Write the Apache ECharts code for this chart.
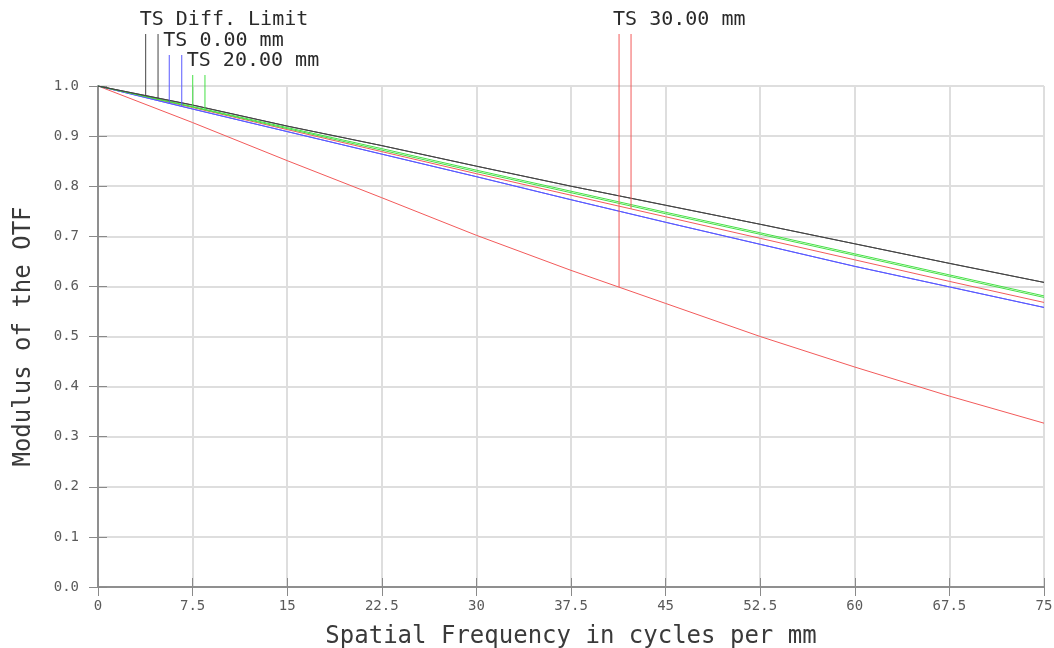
<!DOCTYPE html>
<html>
<head>
<meta charset="utf-8">
<script src="https://cdn.jsdelivr.net/npm/echarts@6/dist/echarts.min.js"></script>
<style>
html,body{margin:0;padding:0;background:#fff;}
#c{width:1054px;height:648px;}
</style>
</head>
<body>
<div id="c"></div>
<script>
// ---- data ----
const freq   = [0, 7.5, 15, 22.5, 30, 37.5, 45, 52.5, 60, 67.5, 75];
const diffT  = [1.0, 0.962, 0.920, 0.881, 0.840, 0.800, 0.762, 0.724, 0.685, 0.646, 0.608];
const diffS  = [1.0, 0.962, 0.920, 0.881, 0.840, 0.800, 0.762, 0.724, 0.685, 0.646, 0.608];
const ts0T   = [1.0, 0.954, 0.909, 0.864, 0.819, 0.773, 0.728, 0.684, 0.640, 0.599, 0.558];
const ts0S   = [1.0, 0.954, 0.909, 0.864, 0.819, 0.773, 0.728, 0.684, 0.640, 0.599, 0.558];
const ts20T  = [1.0, 0.958, 0.915, 0.872, 0.829, 0.787, 0.745, 0.704, 0.662, 0.620, 0.578];
const ts20S  = [1.0, 0.959, 0.917, 0.875, 0.832, 0.790, 0.748, 0.707, 0.665, 0.623, 0.581];
const ts30T  = [1.0, 0.927, 0.851, 0.777, 0.702, 0.632, 0.566, 0.500, 0.439, 0.381, 0.327];
const ts30S  = [1.0, 0.957, 0.913, 0.869, 0.825, 0.782, 0.739, 0.696, 0.653, 0.610, 0.568];

const legendNames = ['TS Diff. Limit', 'TS 0.00 mm', 'TS 20.00 mm', 'TS 30.00 mm'];
const legendFreqT = [3.78, 5.65, 7.51, 41.31];
const legendFreqS = [4.76, 6.64, 8.48, 42.26];

const xName = 'Spatial Frequency in cycles per mm';
const yName = 'Modulus of the OTF';

// ---- styling ----
const FONT = 'DejaVu Sans Mono';
const C_BLACK = '#454545', C_BLUE = '#5a5aff', C_GREEN = '#45e045', C_RED = '#f25a5a';
const legendColors = [C_BLACK, C_BLUE, C_GREEN, C_RED];
const legendCurvesT = [diffT, ts0T, ts20T, ts30T];
const legendCurvesS = [diffS, ts0S, ts20S, ts30S];
const labelRowY = [20, 41, 61, 20];

const pairs = a => freq.map((f, i) => [f, a[i]]);
const mkSeries = (name, arr, color) => ({
  name, type: 'line', data: pairs(arr), showSymbol: false, symbol: 'none',
  lineStyle: { color, width: 1 }, itemStyle: { color }, silent: true
});

const axisLineStyle = { lineStyle: { color: '#8a8a8a', width: 1.5 } };
const tickStyle = { inside: true, length: 9, lineStyle: { color: '#8a8a8a', width: 1 } };

const chart = echarts.init(document.getElementById('c'), null, { renderer: 'canvas' });
chart.setOption({
  animation: false,
  backgroundColor: '#fff',
  grid: { left: 98, right: 10, top: 86, bottom: 61, containLabel: false, outerBoundsMode: 'none' },
  xAxis: [
    { type: 'value', min: 0, max: 75, interval: 7.5, position: 'bottom',
      axisLine: axisLineStyle, axisTick: tickStyle,
      axisLabel: { color: '#5a5a5a', fontFamily: FONT, fontSize: 14, margin: 12 },
      splitLine: { show: true, lineStyle: { color: '#dedede', width: 2 } },
      name: xName, nameLocation: 'middle', nameGap: 38,
      nameTextStyle: { fontFamily: FONT, fontSize: 24, color: '#3a3a3a' } },
    { type: 'value', min: 0, max: 75, interval: 7.5, position: 'top',
      axisLine: axisLineStyle, axisTick: tickStyle,
      axisLabel: { show: false }, splitLine: { show: false } }
  ],
  yAxis: [
    { type: 'value', min: 0, max: 1, interval: 0.1, position: 'left',
      axisLine: axisLineStyle, axisTick: tickStyle,
      axisLabel: { color: '#5a5a5a', fontFamily: FONT, fontSize: 14, margin: 19,
                   formatter: v => v.toFixed(1) },
      splitLine: { show: true, lineStyle: { color: '#dedede', width: 2 } },
      name: yName, nameLocation: 'middle', nameGap: 62, nameRotate: 90,
      nameTextStyle: { fontFamily: FONT, fontSize: 24, color: '#3a3a3a' } },
    { type: 'value', min: 0, max: 1, interval: 0.1, position: 'right',
      axisLine: axisLineStyle, axisTick: tickStyle,
      axisLabel: { show: false }, splitLine: { show: false } }
  ],
  series: [
    mkSeries('TS 30.00 mm T', ts30T, C_RED),
    mkSeries('TS 30.00 mm S', ts30S, C_RED),
    mkSeries('TS 0.00 mm T', ts0T, C_BLUE),
    mkSeries('TS 0.00 mm S', ts0S, C_BLUE),
    mkSeries('TS 20.00 mm T', ts20T, C_GREEN),
    mkSeries('TS 20.00 mm S', ts20S, C_GREEN),
    mkSeries('TS Diff. Limit T', diffT, C_BLACK),
    mkSeries('TS Diff. Limit S', diffS, C_BLACK)
  ]
});

// legend markers: vertical lines dropping from each label to its curves
function interp(arr, f) {
  for (let i = 0; i < freq.length - 1; i++) {
    if (f >= freq[i] && f <= freq[i + 1]) {
      const t = (f - freq[i]) / (freq[i + 1] - freq[i]);
      return arr[i] + t * (arr[i + 1] - arr[i]);
    }
  }
  return arr[arr.length - 1];
}
const graphics = [];
legendNames.forEach((name, i) => {
  const pT = chart.convertToPixel({ gridIndex: 0 }, [legendFreqT[i], interp(legendCurvesT[i], legendFreqT[i])]);
  const pS = chart.convertToPixel({ gridIndex: 0 }, [legendFreqS[i], interp(legendCurvesS[i], legendFreqS[i])]);
  const top = labelRowY[i] + 14;
  graphics.push({ type: 'line', silent: true, z: 10,
    shape: { x1: pT[0], y1: top, x2: pT[0], y2: pT[1] },
    style: { stroke: legendColors[i], lineWidth: 1 } });
  graphics.push({ type: 'line', silent: true, z: 10,
    shape: { x1: pS[0], y1: top, x2: pS[0], y2: pS[1] },
    style: { stroke: legendColors[i], lineWidth: 1 } });
  graphics.push({ type: 'text', silent: true, z: 11, x: pT[0] - 6, y: labelRowY[i],
    style: { text: name, font: '20px "' + FONT + '"', fill: '#2a2a2a',
             align: 'left', verticalAlign: 'middle' } });
});
chart.setOption({ graphic: graphics });
</script>
</body>
</html>
